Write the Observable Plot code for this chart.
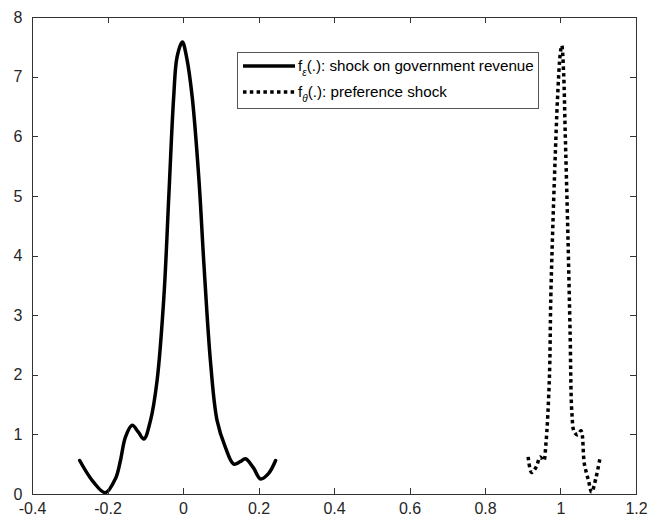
<!DOCTYPE html>
<html>
<head>
<meta charset="utf-8">
<script src="https://cdn.jsdelivr.net/npm/d3@7"></script>
<script src="https://cdn.jsdelivr.net/npm/@observablehq/plot@0.6"></script>
<style>
  body { margin: 0; background: #fff; }
  #chart { position: relative; width: 650px; height: 523px; }
</style>
</head>
<body>
<div id="chart"></div>
<script>
// Solid curve: shock on government revenue (x, density)
const epsX = [-0.275, -0.24, -0.207, -0.18, -0.167, -0.154, -0.136, -0.12, -0.105, -0.0875, -0.07, -0.052, -0.039, -0.026, -0.017, -0.003, 0.008, 0.023, 0.041, 0.054, 0.072, 0.089, 0.111, 0.133, 0.15, 0.164, 0.185, 0.204, 0.225, 0.244];
const epsY = [0.57, 0.22, 0.03, 0.27, 0.57, 0.96, 1.16, 1.05, 0.93, 1.24, 1.91, 3.31, 4.99, 6.67, 7.34, 7.59, 7.34, 6.67, 5.27, 3.87, 2.19, 1.24, 0.79, 0.51, 0.55, 0.60, 0.45, 0.26, 0.35, 0.57];
// Dotted curve: preference shock
const thX = [0.913, 0.922, 0.934, 0.945, 0.954, 0.960, 0.969, 0.973, 0.978, 0.984, 0.991, 0.998, 1.002, 1.007, 1.011, 1.018, 1.024, 1.029, 1.035, 1.044, 1.053, 1.062, 1.073, 1.081, 1.093, 1.103];
const thY = [0.63, 0.37, 0.46, 0.63, 0.57, 0.85, 1.91, 3.31, 4.43, 5.55, 6.67, 7.39, 7.53, 7.06, 6.11, 4.43, 2.75, 1.35, 1.05, 1.0, 1.07, 0.51, 0.23, 0.04, 0.29, 0.60];

const xTicks = [-0.4, -0.2, 0, 0.2, 0.4, 0.6, 0.8, 1, 1.2];
const yTicks = [0, 1, 2, 3, 4, 5, 6, 7, 8];
const legendLabels = [["f", "ε", "(.): shock on government revenue"], ["f", "θ", "(.): preference shock"]];

const eps = epsX.map((x, i) => ({x, y: epsY[i]}));
const th = thX.map((x, i) => ({x, y: thY[i]}));

const W = 650, H = 523;
const mL = 32, mR = 14, mT = 17, mB = 29;
const axisColor = "#333";
const font = "Liberation Sans, Arial, Helvetica, sans-serif";
const dash = "3.5,3.3";

const chart = Plot.plot({
  width: W, height: H,
  marginLeft: mL, marginRight: mR, marginTop: mT, marginBottom: mB,
  style: {fontFamily: font, fontSize: "16px", color: "#262626", background: "#fff"},
  x: {domain: [-0.4, 1.2]},
  y: {domain: [0, 8]},
  marks: [
    Plot.axisX(xTicks, {anchor: "bottom", tickSize: 0, tickPadding: 8, label: null, tickFormat: d => String(d), fontSize: 16, fill: "#262626"}),
    Plot.axisY(yTicks, {anchor: "left", tickSize: 0, tickPadding: 10, label: null, tickFormat: d => String(d), fontSize: 16, fill: "#262626"}),
    Plot.line(eps, {x: "x", y: "y", stroke: "#000", strokeWidth: 3.5, curve: "catmull-rom"}),
    Plot.line(th, {x: "x", y: "y", stroke: "#000", strokeWidth: 3.5, strokeDasharray: dash, strokeLinecap: "butt", strokeLinejoin: "miter", curve: "catmull-rom"}),
    Plot.frame({stroke: axisColor, strokeWidth: 1})
  ]
});
document.getElementById("chart").appendChild(chart);

const svg = d3.select(chart);
// inward ticks on all four sides (MATLAB box style), placed through Plot's scales
const sx = chart.scale("x"), sy = chart.scale("y");
const x0 = mL, x1 = W - mR, y0 = mT, y1 = H - mB, tl = 6;
const tg = svg.append("g").attr("stroke", axisColor).attr("stroke-width", 1).attr("fill", "none");
xTicks.forEach(t => {
  const px = Math.round(sx.apply(t)) + 0.5;
  tg.append("path").attr("d", `M${px},${y1}V${y1 - tl}M${px},${y0}V${y0 + tl}`);
});
yTicks.forEach(t => {
  const py = Math.round(sy.apply(t)) + 0.5;
  tg.append("path").attr("d", `M${x0},${py}H${x0 + tl}M${x1},${py}H${x1 - tl}`);
});

// Legend box inside the axes (MATLAB style)
const lg = svg.append("g").attr("font-family", font).attr("font-size", 15.2).attr("text-anchor", "start");
lg.append("rect").attr("x", 237.5).attr("y", 52.5).attr("width", 301).attr("height", 56)
  .attr("fill", "#fff").attr("stroke", "#555").attr("stroke-width", 1);
const rows = [66, 92];
rows.forEach((ry, i) => {
  lg.append("line").attr("x1", 243).attr("x2", 295).attr("y1", ry).attr("y2", ry)
    .attr("stroke", "#000").attr("stroke-width", 3.5)
    .attr("stroke-linecap", "butt")
    .attr("stroke-dasharray", i === 0 ? null : dash);
  const t = lg.append("text").attr("x", 298).attr("y", ry + 5).attr("fill", "#000").attr("text-anchor", "start");
  t.append("tspan").text(legendLabels[i][0]);
  t.append("tspan").attr("dy", 5).attr("font-size", 10).attr("font-style", "italic").text(legendLabels[i][1]);
  t.append("tspan").attr("dy", -5).text(legendLabels[i][2]);
});
</script>
</body>
</html>
